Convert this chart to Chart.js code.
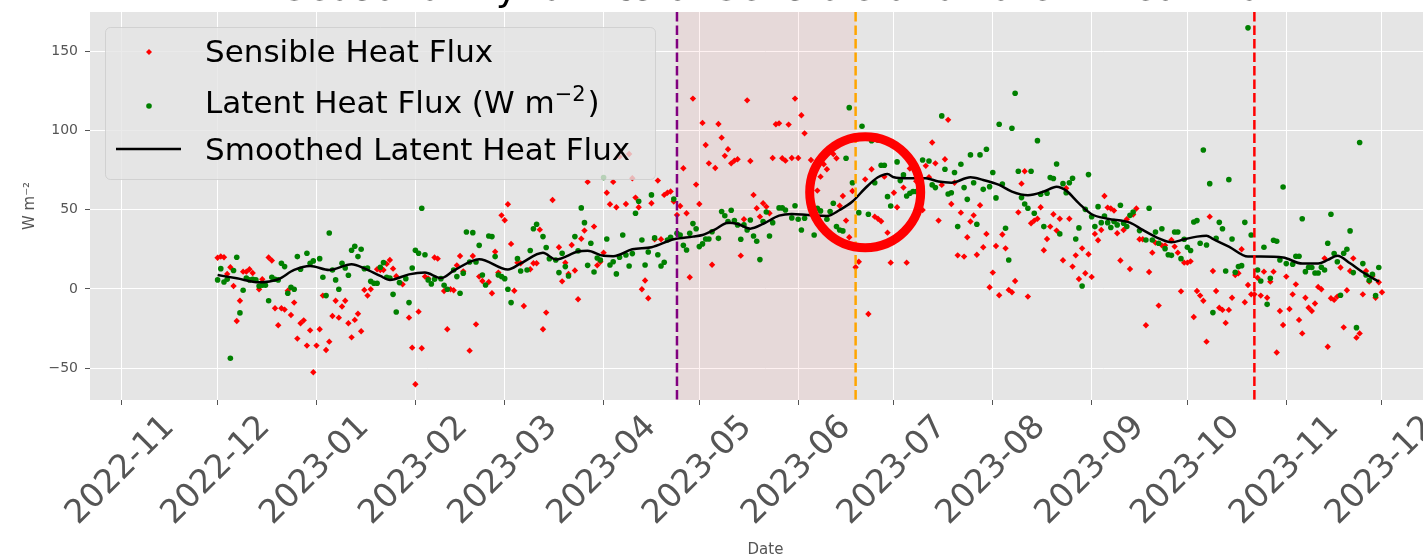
<!DOCTYPE html>
<html>
<head>
<meta charset="utf-8">
<script src="https://cdn.jsdelivr.net/npm/chart.js@4.4.1/dist/chart.umd.min.js"></script>
<style>
  html, body { margin: 0; padding: 0; background: #fff; overflow: hidden; }
  canvas { display: block; }
</style>
</head>
<body>
<canvas id="flux" width="1445" height="559"></canvas>
<script>
const chartTitle = 'Seasonal Dynamics of Sensible and Latent Heat Flux'
const monthTicks = ['2022-11', '2022-12', '2023-01', '2023-02', '2023-03', '2023-04', '2023-05',
  '2023-06', '2023-07', '2023-08', '2023-09', '2023-10', '2023-11', '2023-12']

// daily values, first entry is 2022-12-01 (null = not readable)
const firstDay = '2022-12-01'
const sensibleFlux = [
  19.7, 20.5, 20.0, 9.5, 13.7, 1.9, -20.2, -7.4, 10.9, 10.9,
  12.4, 10.1, null, -0.2, 6.1, null, 19.8, 17.9, -12.2, -22.9,
  -12.2, -13.0, -1.1, -16.4, -8.6, -31.3, -21.6, -19.8, -35.7, -26.1,
  -52.5, -35.7, -25.4, -4.2, -38.5, -33.2, -17.0, -7.4, -18.1, -11.1,
  -7.4, -21.6, -30.5, -19.5, -15.6, -26.7, -0.6, -4.2, -0.2, null,
  12.4, 12.0, 12.0, 15.8, 18.3, 12.8, 8.0, null, 2.9, null,
  -18.1, -37.0, -60.1, -14.3, -37.4, 7.8, 6.7, null, 19.8, 19.1,
  null, -1.3, -25.4, -0.2, -0.8, 14.9, 20.8, 11.1, null, -38.9,
  20.8, -22.3, 7.8, 5.0, null, 4.4, -2.7, 23.5, 10.3, 46.4,
  43.3, 53.4, 28.4, -1.1, 16.6, 16.2, -10.7, null, 12.4, 16.2,
  16.2, 37.4, -25.4, -14.9, null, 56.1, null, 26.3, 4.8, 16.6,
  9.5, 27.7, 11.6, -6.5, 31.7, 36.8, 67.5, null, 39.3, 14.9,
  17.2, 22.9, 60.7, 53.4, 67.5, 51.5, 83.4, null, 53.6, 85.1,
  69.8, 57.6, 51.5, -0.2, 5.3, -5.9, 54.0, 31.3, 68.3, 31.3,
  59.3, 60.7, 61.4, 55.1, 46.7, 52.3, 76.1, 47.7, 7.4, 120.0,
  65.8, 53.6, 104.7, 90.8, 79.2, 15.3, 76.3, 104.0, 95.4, 83.9,
  88.1, 79.2, 80.9, 81.8, 21.0, 43.9, 118.9, 80.7, 59.3, 50.9,
  45.6, 54.0, 51.9, 47.7, 82.6, 103.8, 104.4, 82.4, 80.9, 103.6,
  82.6, 120.0, 82.6, 109.5, 98.1, null, 81.3, null, 62.0, 70.8,
  78.6, 75.5, null, 85.1, 82.4, 52.5, 58.6, 43.1, 32.6, 61.8,
  13.7, 17.2, null, 69.1, -15.8, 75.5, 45.6, 44.3, 42.7, 70.8,
  35.5, 16.6, 60.7, 51.5, null, 63.9, 16.6, 75.9, null, 67.9,
  null, 49.8, 77.6, 70.4, 92.3, 79.2, 43.1, 65.6, 81.8, 106.6,
  53.6, 67.0, 21.2, 48.1, 20.4, 32.6, 42.5, 46.4, 21.6, 52.8,
  26.3, 34.7, 1.1, 10.3, 27.1, -4.0, 34.3, 25.6, -0.6, -2.1,
  5.0, 48.3, 66.4, 74.2, -4.8, 41.4, 43.1, 44.3, 51.5, 24.4,
  31.5, 39.3, 47.1, 36.8, 44.3, 18.1, 63.5, 44.3, 14.1, 21.2,
  6.3, 25.6, 9.9, 21.9, 7.6, 34.7, 30.7, 37.2, 58.6, 51.3,
  50.7, 49.4, 35.1, 17.9, 37.2, 43.9, 12.6, 46.9, 50.7, 31.3,
  31.3, -22.9, 10.7, 22.9, 29.2, -10.5, 27.5, 27.5, null, 30.9,
  26.7, 22.9, -1.5, 16.6, 16.6, 17.4, -17.7, -1.3, -4.2, -7.4,
  -33.2, 45.6, 11.3, -1.3, -11.8, -13.2, -21.4, -13.2, -5.5, 8.8,
  9.9, 25.0, -8.4, 2.5, -3.4, -3.4, 7.1, -4.2, 10.9, -5.5,
  4.6, 10.9, -40.1, -13.9, -22.7, 7.8, -12.6, -3.4, 2.9, -19.5,
  -28.0, -5.5, -11.8, -13.9, -9.2, 1.3, -0.2, 19.3, -36.4, -5.9,
  -6.9, -4.8, 13.5, -24.2, -0.8, 11.3, 19.3, -30.7, -28.0, -3.4,
  11.3, 4.6, 8.2, -5.5, 4.2, -2.1
]
const latentFlux = [
  5.7, 12.8, 4.4, 6.1, -43.7, 11.6, 20.0, -15.1, -0.8, 6.9,
  5.7, 6.1, 5.7, 1.9, 2.3, 2.3, -7.4, 7.4, 6.1, 5.7,
  16.2, 14.1, -2.7, 1.1, -0.2, 20.4, 12.4, null, 22.5, 16.2,
  17.7, null, 19.1, 7.4, -4.2, 35.3, 12.0, 5.7, -0.2, 16.2,
  13.2, 8.6, 24.4, 26.9, 20.4, 25.0, 12.8, 13.2, 4.8, 3.6,
  3.6, 13.7, 16.6, 7.4, 6.9, -3.4, -14.5, 4.0, null, 6.5,
  -8.6, 13.2, 24.4, 22.5, 50.9, 21.6, 5.7, 3.2, 6.1, null,
  6.5, 2.3, -0.2, null, 12.0, 7.8, -2.7, 9.9, 35.9, 17.0,
  35.5, 17.0, 27.5, 8.8, 2.5, 33.4, 33.0, 20.4, 8.8, 7.8,
  6.5, -0.2, -8.6, null, 19.1, 11.3, null, 12.0, 24.2, 38.0,
  40.8, null, 33.0, 26.1, 19.1, null, 18.3, 10.3, 22.5, 14.1,
  8.2, null, 33.0, 24.0, 51.1, 41.8, 14.9, 28.8, 10.7, 19.5,
  18.3, 70.2, 31.5, 15.1, 17.2, 9.5, 20.0, 34.0, 21.4, 14.5,
  22.3, 47.7, 55.3, 30.9, 15.1, 23.3, 59.3, 32.2, 21.6, 14.5,
  16.8, 30.9, 32.6, 56.7, 35.1, 34.0, 27.5, 24.6, 35.1, 41.2,
  38.0, 26.7, 28.4, 31.5, 31.5, 36.1, null, 31.9, 48.8, 46.2,
  42.5, 49.6, 43.1, 40.4, 31.3, 40.4, 37.2, 43.5, 33.4, 30.1,
  18.5, 42.5, 48.5, 33.4, 41.8, null, 51.1, 51.1, 49.8, null,
  44.8, 52.5, 43.9, 37.2, 44.6, null, null, 34.0, 50.9, 49.2,
  null, 43.9, 48.8, 54.0, 39.3, 37.2, 36.6, 82.4, 114.3, 67.0,
  null, 48.1, 102.6, null, 47.1, 93.5, 67.0, 93.9, 78.0, 78.0,
  58.2, 52.3, null, 80.1, 68.3, 71.9, 58.6, 60.3, 61.4, 61.4,
  null, 81.3, null, 80.7, 65.6, 63.9, null, 109.1, 75.5, 59.9,
  60.7, 73.4, 39.3, 78.6, 63.9, 56.5, 84.5, 67.0, 40.8, 84.5,
  62.8, 88.1, 64.5, 73.4, 57.4, 103.8, 66.2, 38.3, 18.3, 101.3,
  123.4, 74.2, 57.6, 53.6, 50.9, 74.2, 47.7, 93.5, 59.7, 39.3,
  60.3, 70.2, 69.6, 78.8, 34.7, 66.4, 60.7, 67.0, 69.8, 31.5,
  38.5, 1.9, 50.2, 72.1, 45.6, 39.3, 51.9, 41.8, 46.0, 41.8,
  38.7, 42.5, 40.4, 52.8, 41.4, 39.3, 46.4, 48.5, null, 36.8,
  null, 30.9, 50.9, 30.9, 35.9, 28.8, 38.0, 25.4, 21.6, 21.2,
  35.9, 35.9, 19.1, 31.3, 26.3, 24.2, 42.2, 43.1, 28.8, 87.6,
  27.7, 66.4, -14.9, 31.9, 42.0, 38.0, 11.3, 68.9, 31.5, 10.5,
  14.1, 14.7, 42.0, 164.6, 34.0, null, 12.0, 5.0, 26.3, -9.7,
  6.7, 30.7, 30.1, 18.3, 64.3, 16.0, null, 15.6, 20.6, 20.6,
  44.3, 10.9, 13.7, 13.5, 10.1, 10.1, 13.7, 12.0, 28.8, 47.1,
  22.3, 17.2, -4.0, 22.5, 25.0, 36.6, 10.3, -24.4, 92.3, 16.0,
  8.8, 5.5, 9.2, -4.2, 13.5, null
]

// smoothed latent heat flux, read at these days after firstDay
const smoothedDay = [0, 6, 13, 19, 24, 29, 35, 42, 46, 51, 54, 60, 65, 70, 74, 82, 91, 95, 102, 106,
  113, 116, 121, 124, 130, 136, 143, 149, 152, 156, 160, 163, 167, 171, 176, 180, 185, 191, 195, 199,
  203, 207, 210, 212, 216, 222, 226, 230, 236, 240, 245, 249, 254, 259, 263, 266, 270, 274, 279, 286,
  290, 295, 299, 303, 307, 310, 312, 317, 323, 327, 334, 340, 345, 348, 351, 355, 359, 364]
const smoothedFlux = [8.8, 6.7, 4.2, 6.1, 12.0, 14.5, 12.0, 15.6, 13.0, 8.2, 5.7, 9.2, 10.3, 6.9, 11.5, 18.8, 12.3, 16.1, 22.8, 18.6,
  23.6, 24.1, 20.9, 20.7, 25.0, 26.3, 31.3, 33.0, 34.0, 37.6, 41.8, 41.0, 38.0, 41.0, 46.2, 47.3, 46.6, 46.0, 49.8, 55.1,
  63.5, 70.4, 72.5, 70.4, 69.8, 69.8, 67.7, 67.0, 70.4, 68.7, 65.6, 61.4, 59.1, 61.4, 64.5, 62.0, 54.0, 47.1, 44.3, 41.8,
  37.2, 31.9, 29.4, 31.3, 33.0, 33.6, 31.5, 26.7, 20.4, 20.4, 19.8, 16.0, 16.0, 18.3, 21.0, 16.2, 10.5, 4.6]

const eventDates = ['2023-04-24', '2023-06-19', '2023-10-22']
const eventColors = ['#800080', '#ffa500', '#ff0000']
const circleDate = '2023-06-22'
const circleFlux = 61

const legendLabels = ['Sensible Heat Flux', 'Latent Heat Flux (W m', '\u22122', ')', 'Smoothed Latent Heat Flux']

const chartOrigin = Date.UTC(2022, 10, 1)
const dayMs = 86400000

function dayOf(text) {
  const [y, m, d] = text.split('-').map(Number)
  return (Date.UTC(y, m - 1, d || 1) - chartOrigin) / dayMs
}

const startDay = dayOf(firstDay)

function dailyPoints(values) {
  return values
    .map((v, i) => ({ x: startDay + i, y: v }))
    .filter(p => p.y !== null)
}

const smoothedPoints = smoothedDay.map((d, i) => ({ x: startDay + d, y: smoothedFlux[i] }))

const decorations = {
  id: 'decorations',
  beforeDraw(chart) {
    const { ctx, chartArea: a } = chart
    ctx.save()
    ctx.fillStyle = '#e5e5e5'
    ctx.fillRect(a.left, a.top, a.right - a.left, a.bottom - a.top)
    ctx.restore()
  },
  beforeDatasetsDraw(chart) {
    const { ctx, chartArea: a, scales: { x } } = chart
    const x0 = x.getPixelForValue(dayOf(eventDates[0]))
    const x1 = x.getPixelForValue(dayOf(eventDates[1]))
    ctx.save()
    ctx.fillStyle = 'rgba(255, 0, 0, 0.05)'
    ctx.fillRect(x0, a.top, x1 - x0, a.bottom - a.top)
    ctx.restore()
  },
  afterDatasetsDraw(chart) {
    const { ctx, chartArea: a, scales: { x } } = chart
    ctx.save()
    ctx.lineWidth = 2.5
    ctx.setLineDash([9.5, 4])
    eventDates.forEach((date, i) => {
      const px = x.getPixelForValue(dayOf(date))
      ctx.strokeStyle = eventColors[i]
      ctx.beginPath()
      ctx.moveTo(px, a.top)
      ctx.lineTo(px, a.bottom)
      ctx.stroke()
    })
    ctx.restore()
  },
  afterDraw(chart) {
    const { ctx, scales: { x, y } } = chart
    ctx.save()

    // highlight circle
    ctx.strokeStyle = '#ff0000'
    ctx.lineWidth = 9
    ctx.beginPath()
    ctx.arc(x.getPixelForValue(dayOf(circleDate)), y.getPixelForValue(circleFlux), 55.5, 0, Math.PI * 2)
    ctx.stroke()

    // legend
    ctx.fillStyle = 'rgba(229, 229, 229, 0.8)'
    ctx.strokeStyle = 'rgba(204, 204, 204, 0.8)'
    ctx.lineWidth = 1
    ctx.beginPath()
    ctx.roundRect(105.5, 27.5, 550, 152, 5)
    ctx.fill()
    ctx.stroke()

    ctx.fillStyle = '#ff0000'
    ctx.beginPath()
    ctx.moveTo(149, 49)
    ctx.lineTo(152, 52)
    ctx.lineTo(149, 55)
    ctx.lineTo(146, 52)
    ctx.closePath()
    ctx.fill()

    ctx.fillStyle = '#008000'
    ctx.beginPath()
    ctx.arc(149, 106, 2.8, 0, Math.PI * 2)
    ctx.fill()

    ctx.strokeStyle = '#000'
    ctx.lineWidth = 2.5
    ctx.beginPath()
    ctx.moveTo(116, 149)
    ctx.lineTo(181, 149)
    ctx.stroke()

    ctx.fillStyle = '#000'
    ctx.textAlign = 'left'
    ctx.textBaseline = 'alphabetic'
    ctx.font = '31px "DejaVu Sans"'
    ctx.fillText(legendLabels[0], 205, 62)
    ctx.fillText(legendLabels[1], 205, 113)
    const w1 = ctx.measureText(legendLabels[1]).width
    ctx.font = '21px "DejaVu Sans"'
    ctx.fillText(legendLabels[2], 205 + w1, 101)
    const w2 = ctx.measureText(legendLabels[2]).width
    ctx.font = '31px "DejaVu Sans"'
    ctx.fillText(legendLabels[3], 205 + w1 + w2 + 2, 113)
    ctx.fillText(legendLabels[4], 205, 160)

    // title, mostly above the visible area
    ctx.textAlign = 'center'
    ctx.textBaseline = 'alphabetic'
    ctx.font = '38px "DejaVu Sans"'
    ctx.fillText(chartTitle, 784, 0)
    ctx.restore()
  }
}

Chart.defaults.font.family = '"DejaVu Sans", sans-serif'

new Chart(document.getElementById('flux'), {
  type: 'scatter',
  data: {
    datasets: [
      {
        label: 'Smoothed Latent Heat Flux',
        type: 'line',
        data: smoothedPoints,
        borderColor: '#000',
        borderWidth: 2.5,
        pointRadius: 0,
        cubicInterpolationMode: 'monotone',
        order: 0
      },
      {
        label: 'Latent Heat Flux',
        data: dailyPoints(latentFlux),
        pointBackgroundColor: '#008000',
        pointBorderWidth: 0,
        pointRadius: 2.8,
        pointStyle: 'circle',
        order: 1
      },
      {
        label: 'Sensible Heat Flux',
        data: dailyPoints(sensibleFlux),
        pointBackgroundColor: '#ff0000',
        pointBorderWidth: 0,
        pointRadius: 3.2,
        pointStyle: 'rectRot',
        order: 2
      }
    ]
  },
  options: {
    responsive: false,
    animation: false,
    layout: { padding: { top: 12, left: 0, right: 0, bottom: 0 } },
    plugins: {
      legend: { display: false },
      tooltip: { enabled: false }
    },
    scales: {
      x: {
        type: 'linear',
        min: -10,
        max: 413.5,
        afterBuildTicks(scale) {
          scale.ticks = monthTicks.map(m => ({ value: dayOf(m) }))
        },
        afterFit(scale) {
          scale.height = 159
          scale.paddingLeft = 0
          scale.paddingRight = 0
        },
        ticks: {
          autoSkip: false,
          minRotation: 45,
          maxRotation: 45,
          labelOffset: 47.5,
          padding: 3,
          color: '#555',
          font: { size: 33 },
          callback: (value, index) => monthTicks[index]
        },
        grid: { color: '#ffffff', lineWidth: 1, tickColor: '#555', tickLength: 5 },
        border: { display: false },
        title: { display: true, text: 'Date', color: '#555', font: { size: 15 }, padding: { top: 0, bottom: 0 } }
      },
      y: {
        min: -70,
        max: 174.6,
        afterFit(scale) {
          scale.width = 90
          scale.paddingTop = 0
          scale.paddingBottom = 0
        },
        ticks: {
          stepSize: 50,
          includeBounds: false,
          padding: 7,
          color: '#555',
          font: { size: 14 },
          callback: v => (v < 0 ? '\u2212' + Math.abs(v) : String(v))
        },
        grid: { color: '#ffffff', lineWidth: 1, tickColor: '#555', tickLength: 5 },
        border: { display: false },
        title: { display: true, text: 'W m\u207b\u00b2', color: '#555', font: { size: 15 }, padding: { top: 21, bottom: 0 } }
      }
    }
  },
  plugins: [decorations]
})
</script>
</body>
</html>
